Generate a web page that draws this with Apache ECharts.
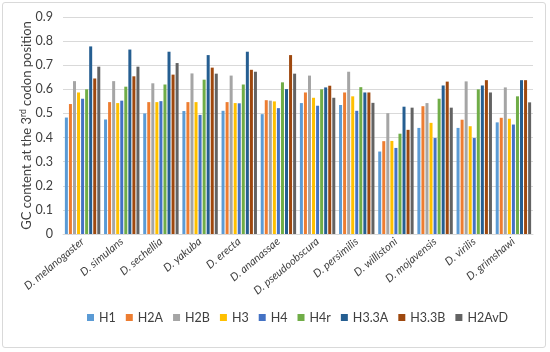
<!DOCTYPE html>
<html>
<head>
<meta charset="utf-8">
<script src="https://cdn.jsdelivr.net/npm/echarts@6/dist/echarts.min.js"></script>
<style>
  html, body { margin: 0; padding: 0; background: #fff; }
  #main { position: absolute; left: 2px; top: 2px; width: 544px; height: 346px;
          border: 1px solid #d9d9d9; border-radius: 3px; box-sizing: border-box; }
</style>
</head>
<body>
<div id="main"></div>
<script>
var species = ['D. melanogaster', 'D. simulans', 'D. sechellia', 'D. yakuba', 'D. erecta',
  'D. ananassae', 'D. pseudoobscura', 'D. persimilis', 'D. willistoni', 'D. mojavensis',
  'D. virilis', 'D. grimshawi'];
var histones = ['H1', 'H2A', 'H2B', 'H3', 'H4', 'H4r', 'H3.3A', 'H3.3B', 'H2AvD'];
var colors = ['#5B9BD5', '#ED7D31', '#A5A5A5', '#FFC000', '#4472C4', '#70AD47', '#255E91', '#9E480E', '#636363'];

var H1    = [0.483, 0.475, 0.500, 0.510, 0.511, 0.497, 0.543, 0.535, 0.342, 0.440, 0.440, 0.463];
var H2A   = [0.539, 0.547, 0.547, 0.547, 0.547, 0.555, 0.587, 0.587, 0.385, 0.530, 0.474, 0.482];
var H2B   = [0.634, 0.634, 0.625, 0.666, 0.657, 0.553, 0.657, 0.673, 0.501, 0.543, 0.633, 0.608];
var H3    = [0.587, 0.543, 0.547, 0.547, 0.543, 0.550, 0.565, 0.571, 0.386, 0.461, 0.447, 0.478];
var H4    = [0.561, 0.553, 0.551, 0.494, 0.542, 0.522, 0.532, 0.511, 0.357, 0.398, 0.398, 0.454];
var H4r   = [0.600, 0.611, 0.620, 0.640, 0.620, 0.629, 0.600, 0.609, 0.416, 0.561, 0.600, 0.571];
var H33A  = [0.778, 0.765, 0.756, 0.742, 0.756, 0.601, 0.608, 0.587, 0.528, 0.616, 0.616, 0.638];
var H33B  = [0.645, 0.654, 0.661, 0.690, 0.681, 0.742, 0.615, 0.587, 0.432, 0.632, 0.638, 0.638];
var H2AvD = [0.694, 0.694, 0.709, 0.665, 0.673, 0.665, 0.565, 0.544, 0.524, 0.524, 0.587, 0.546];
var values = [H1, H2A, H2B, H3, H4, H4r, H33A, H33B, H2AvD];

var font = 'Lato, "Open Sans", sans-serif';
var chart = echarts.init(document.getElementById('main'));

var series = histones.map(function (name, i) {
  return {
    name: name,
    type: 'bar',
    data: values[i],
    barWidth: 3,
    barGap: '35%',
    itemStyle: { color: colors[i] }
  };
});

chart.setOption({
  animation: false,
  color: colors,
  grid: { left: 60, right: 12, top: 14, bottom: 113 },
  legend: {
    bottom: 18,
    left: 79,
    itemWidth: 7,
    itemHeight: 7,
    itemGap: 10,
    icon: 'rect',
    textStyle: { fontSize: 12.5, color: '#404040', fontFamily: font },
    data: histones
  },
  xAxis: {
    type: 'category',
    data: species,
    axisTick: { show: false },
    axisLine: { lineStyle: { color: '#d9d9d9' } },
    axisLabel: {
      rotate: 40,
      interval: 0,
      margin: 6,
      fontSize: 11,
      fontStyle: 'italic',
      color: '#404040',
      fontFamily: font
    }
  },
  yAxis: {
    type: 'value',
    min: 0,
    max: 0.9,
    interval: 0.1,
    name: 'GC content at the 3{sup|rd} codon position',
    nameLocation: 'middle',
    nameGap: 29,
    nameMoveOverlap: false,
    nameTextStyle: {
      fontSize: 13,
      color: '#404040',
      fontFamily: font,
      rich: { sup: { fontSize: 8.5, verticalAlign: 'top', color: '#404040', fontFamily: font, padding: [0, 0, 6, 0] } }
    },
    axisLabel: {
      fontSize: 12.5,
      margin: 10,
      color: '#404040',
      fontFamily: font,
      formatter: function (v) { return Math.round(v * 10) / 10 + ''; }
    },
    splitLine: { lineStyle: { color: '#d9d9d9' } },
    axisLine: { show: false },
    axisTick: { show: false }
  },
  series: series
});
</script>
</body>
</html>
